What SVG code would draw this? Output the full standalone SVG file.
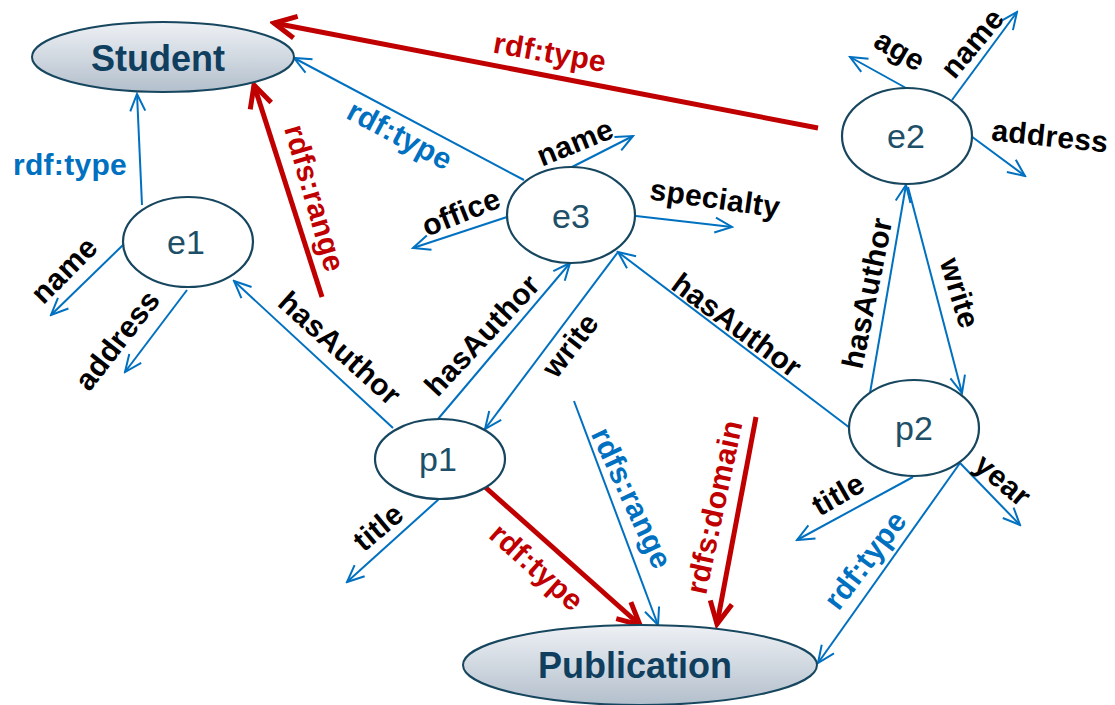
<svg xmlns="http://www.w3.org/2000/svg" width="1115" height="705" viewBox="0 0 1115 705">
<defs>
<linearGradient id="cls" x1="0" y1="0" x2="0" y2="1">
<stop offset="0" stop-color="#eef1f5"/>
<stop offset="1" stop-color="#b3bfcc"/>
</linearGradient>
<marker id="ab" markerUnits="userSpaceOnUse" viewBox="-20 -10 22 20" refX="0" refY="0" markerWidth="22" markerHeight="20" orient="auto">
<path d="M-17,-7.5 L0,0 L-17,7.5" fill="none" stroke="#0070c0" stroke-width="2"/>
</marker>
<marker id="ar" markerUnits="userSpaceOnUse" viewBox="-28 -15 32 30" refX="0" refY="0" markerWidth="32" markerHeight="30" orient="auto">
<path d="M-22,-11 L0,0 L-22,11" fill="none" stroke="#c00000" stroke-width="5" stroke-linejoin="miter"/>
</marker>
</defs>
<style>
.b{stroke:#0070c0;stroke-width:2;fill:none;marker-end:url(#ab)}
.r{stroke:#c00000;stroke-width:5;fill:none;marker-end:url(#ar)}
.node{fill:#fff;stroke:#17465f;stroke-width:2.2}
.cls{fill:url(#cls);stroke:#17465f;stroke-width:2}
.nt{font-family:"Liberation Sans",Arial,sans-serif;font-size:34px;fill:#1d4f68;text-anchor:middle}
.ct{font-family:"Liberation Sans",Arial,sans-serif;font-size:36px;font-weight:bold;fill:#0f3e5e;text-anchor:middle}
.l{font-family:"Liberation Sans",Arial,sans-serif;font-size:30px;font-weight:bold;text-anchor:middle;letter-spacing:0.3px}
.k{fill:#000}
.lb{fill:#0070c0}
.lr{fill:#c00000}
</style>

<g id="connectors">
<line class="b" x1="142" y1="205" x2="137" y2="94"/>
<line class="b" x1="123" y1="245" x2="51" y2="315"/>
<line class="b" x1="187" y1="290" x2="125" y2="372"/>
<line class="b" x1="393" y1="428" x2="234" y2="281"/>
<line class="b" x1="524" y1="180" x2="294" y2="58"/>
<line class="b" x1="507" y1="217" x2="413" y2="248"/>
<line class="b" x1="572" y1="167" x2="633" y2="136"/>
<line class="b" x1="636" y1="216" x2="732" y2="227"/>
<line class="b" x1="438" y1="419" x2="570" y2="263"/>
<line class="b" x1="618" y1="252" x2="485" y2="429"/>
<line class="b" x1="850" y1="428" x2="618" y2="252"/>
<line class="b" x1="908" y1="187" x2="962" y2="393"/>
<line class="b" x1="870" y1="393" x2="906" y2="185"/>
<line class="b" x1="906" y1="88" x2="850" y2="57"/>
<line class="b" x1="952" y1="100" x2="1017" y2="12"/>
<line class="b" x1="971" y1="136" x2="1025" y2="176"/>
<line class="b" x1="439" y1="499" x2="347" y2="582"/>
<line class="b" x1="574" y1="401" x2="658" y2="625"/>
<line class="b" x1="913" y1="477" x2="797" y2="540"/>
<line class="b" x1="960" y1="463" x2="1020" y2="525"/>
<line class="b" x1="960" y1="463" x2="818" y2="663"/>
<line class="r" x1="322" y1="297" x2="254" y2="85"/>
<line class="r" x1="818" y1="128" x2="274" y2="23"/>
<line class="r" x1="485" y1="487" x2="640" y2="625"/>
<line class="r" x1="756" y1="417" x2="717" y2="624"/>
</g>

<g id="labels">
<text class="l lb" x="70" y="175">rdf:type</text>
<text class="l k" transform="translate(64,270) rotate(-45)" dy="0.35em">name</text>
<text class="l k" transform="translate(117,340) rotate(-52)" dy="0.35em">address</text>
<text class="l k" transform="translate(340,348) rotate(42)" dy="0.35em">hasAuthor</text>
<text class="l lr" transform="translate(315,198) rotate(74)" dy="0.35em">rdfs:range</text>
<text class="l lb" transform="translate(400,135) rotate(28)" dy="0.35em">rdf:type</text>
<text class="l lr" transform="translate(550,52) rotate(10)" dy="0.35em">rdf:type</text>
<text class="l k" transform="translate(461,212) rotate(-22)" dy="0.35em">office</text>
<text class="l k" transform="translate(575,142) rotate(-22)" dy="0.35em">name</text>
<text class="l k" transform="translate(715,198) rotate(8)" dy="0.35em">specialty</text>
<text class="l k" transform="translate(482,335) rotate(-47)" dy="0.35em">hasAuthor</text>
<text class="l k" transform="translate(570,345) rotate(-52)" dy="0.35em">write</text>
<text class="l k" transform="translate(737,325) rotate(36.5)" dy="0.35em">hasAuthor</text>
<text class="l k" transform="translate(867,293) rotate(-78.5)" dy="0.35em">hasAuthor</text>
<text class="l k" transform="translate(960,293) rotate(73)" dy="0.35em">write</text>
<text class="l k" transform="translate(900,50) rotate(30)" dy="0.35em">age</text>
<text class="l k" transform="translate(972,43) rotate(-50)" dy="0.35em">name</text>
<text class="l k" transform="translate(1050,136) rotate(6)" dy="0.35em">address</text>
<text class="l k" transform="translate(378,527) rotate(-40)" dy="0.35em">title</text>
<text class="l lr" transform="translate(537,567) rotate(42)" dy="0.35em">rdf:type</text>
<text class="l lb" transform="translate(632,498) rotate(65)" dy="0.35em">rdfs:range</text>
<text class="l lr" transform="translate(714,507) rotate(-78)" dy="0.35em">rdfs:domain</text>
<text class="l k" transform="translate(838,494) rotate(-30)" dy="0.35em">title</text>
<text class="l k" transform="translate(1003,480) rotate(40)" dy="0.35em">year</text>
<text class="l lb" transform="translate(865,560) rotate(-52.5)" dy="0.35em">rdf:type</text>
</g>

<g id="Student">
<ellipse class="cls" cx="163" cy="57" rx="131" ry="35"/>
<text class="ct" x="158" y="71">Student</text>
</g>
<g id="Publication">
<ellipse class="cls" cx="640" cy="665" rx="177" ry="40"/>
<text class="ct" x="635" y="678">Publication</text>
</g>
<g id="e1">
<ellipse class="node" cx="188" cy="242" rx="65" ry="45"/>
<text class="nt" x="186" y="254">e1</text>
</g>
<g id="e3">
<ellipse class="node" cx="571" cy="215" rx="64" ry="48"/>
<text class="nt" x="571" y="228">e3</text>
</g>
<g id="e2">
<ellipse class="node" cx="907" cy="136" rx="65" ry="48"/>
<text class="nt" x="906" y="148">e2</text>
</g>
<g id="p1">
<ellipse class="node" cx="440" cy="459" rx="65" ry="40"/>
<text class="nt" x="438" y="471">p1</text>
</g>
<g id="p2">
<ellipse class="node" cx="914" cy="428" rx="65" ry="48"/>
<text class="nt" x="914" y="440">p2</text>
</g>
</svg>
